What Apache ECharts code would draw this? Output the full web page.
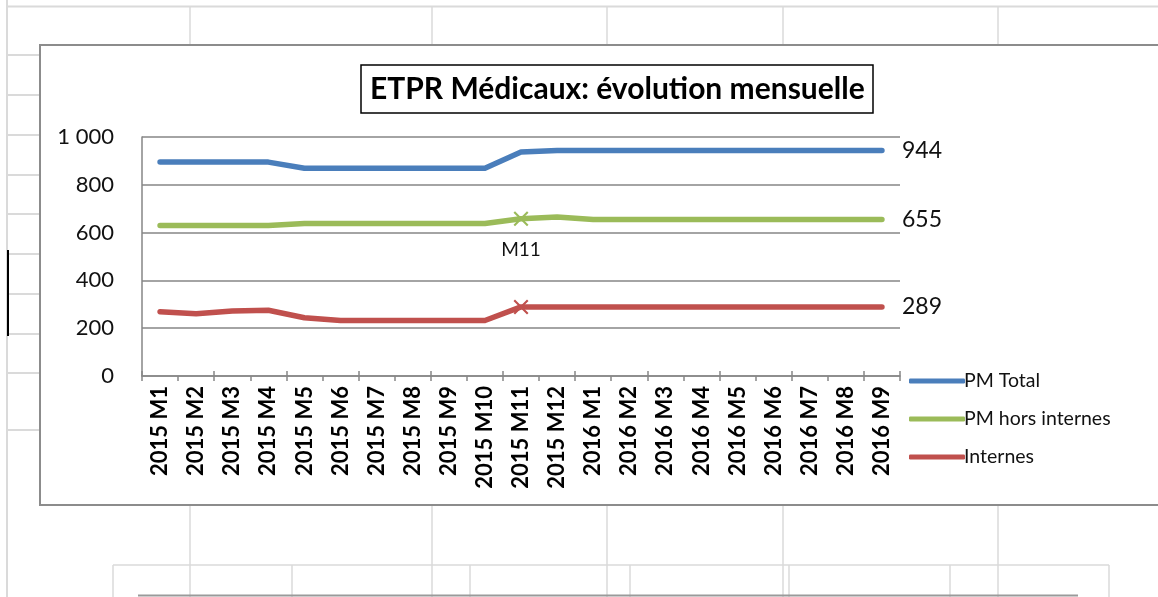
<!DOCTYPE html>
<html><head><meta charset="utf-8">
<script src="https://cdn.jsdelivr.net/npm/echarts@6/dist/echarts.min.js"></script>
<style>html,body{margin:0;padding:0;background:#fff}#c{width:1158px;height:597px}</style>
</head><body><div id="c"></div><script>
const categories = ['2015 M1','2015 M2','2015 M3','2015 M4','2015 M5','2015 M6','2015 M7','2015 M8','2015 M9','2015 M10','2015 M11','2015 M12','2016 M1','2016 M2','2016 M3','2016 M4','2016 M5','2016 M6','2016 M7','2016 M8','2016 M9'];
const pmTotal        = [895,895,895,895,869,869,869,869,869,869,937,944,944,944,944,944,944,944,944,944,944];
const pmHorsInternes = [630,630,630,630,638,638,638,638,638,638,658,665,655,655,655,655,655,655,655,655,655];
const internes       = [269,260,272,275,244,232,232,232,232,232,289,289,289,289,289,289,289,289,289,289,289];
const seriesNames = ['PM Total','PM hors internes','Internes'];
const colors = ['#4a7ebb','#9bbb59','#c0504d'];
const titleText = 'ETPR Médicaux: évolution mensuelle';
const markIndex = 10;
const FONT = 'Lato';

const crossPath = 'path://M0,1L1,0L5,4L9,0L10,1L6,5L10,9L9,10L5,6L1,10L0,9L4,5Z';

function withMark(arr, color, showLabel) {
  return arr.map((v, i) => {
    if (i !== markIndex) return v;
    const item = { value: v, symbol: crossPath, symbolSize: 15, itemStyle: { color: color } };
    if (showLabel) {
      item.label = { show: true, position: 'bottom', distance: 14, formatter: categories[i].split(' ')[1],
        fontFamily: FONT, fontSize: 19, color: '#111' };
    }
    return item;
  });
}

const endLabel = { show: true, formatter: '{c}', distance: 20, fontFamily: FONT, fontSize: 23, color: '#111' };

function bgLine(x1, y1, x2, y2, color, w) {
  return { type: 'line', silent: true, z: -10, shape: { x1, y1, x2, y2 }, style: { stroke: color, lineWidth: w } };
}
const g = [];
const lg = '#dadada';
g.push(bgLine(7, 0, 7, 597, lg, 2));
g.push(bgLine(7, 6.5, 1158, 6.5, lg, 2));
[190, 432, 607, 783, 998].forEach(x => { g.push(bgLine(x, 6, x, 45, lg, 1.5)); g.push(bgLine(x, 505, x, 565, lg, 1.5)); });
[55, 95, 135, 175, 214, 254, 294, 334, 373, 430].forEach(y => g.push(bgLine(7, y, 40, y, lg, 2)));
g.push(bgLine(8, 250, 8, 336, '#000', 2));
g.push(bgLine(113, 565, 1109, 565, lg, 1.5));
[113, 190, 292, 432, 470, 607, 630, 783, 789, 950, 998, 1109].forEach(x => g.push(bgLine(x, 565, x, 597, lg, 1.5)));
g.push(bgLine(138, 595.5, 1078, 595.5, '#9a9a9a', 2));
g.push({ type: 'rect', silent: true, z: -5, shape: { x: 40, y: 45, width: 1140, height: 460 },
  style: { fill: '#fff', stroke: '#8c8c8c', lineWidth: 2 } });

const chart = echarts.init(document.getElementById('c'), null, { renderer: 'canvas' });
chart.setOption({
  animation: false,
  backgroundColor: '#fff',
  color: colors,
  graphic: { elements: g },
  title: {
    text: titleText, left: 361, top: 65,
    borderColor: '#000', borderWidth: 1.5, padding: [9, 9, 9, 9],
    textStyle: { fontFamily: FONT, fontWeight: 'bold', fontSize: 30, color: '#000' }
  },
  legend: {
    orient: 'vertical', left: 904, top: 366,
    itemWidth: 56, itemHeight: 5, itemGap: 18, icon: 'roundRect',
    data: seriesNames,
    textStyle: { fontFamily: FONT, fontSize: 19.5, color: '#111', lineHeight: 20, padding: [0, 0, 0, -6] }
  },
  grid: { left: 142, right: 258, top: 137, bottom: 221, outerBoundsMode: 'none', containLabel: false },
  xAxis: [{
    type: 'category', data: categories, position: 'bottom', boundaryGap: true,
    axisLine: { lineStyle: { color: '#868686', width: 1.5 } },
    axisTick: { show: true, inside: false, length: 5, alignWithLabel: false, lineStyle: { color: '#868686', width: 1.5 } },
    axisLabel: { rotate: 90, interval: 0, margin: 10, fontFamily: FONT, fontWeight: 'bold', fontSize: 22, color: '#000' }
  }, {
    type: 'category', data: categories, position: 'bottom', boundaryGap: true,
    axisLine: { show: false },
    axisTick: { show: true, inside: true, length: 5, alignWithLabel: false, lineStyle: { color: '#868686', width: 1.5 } },
    axisLabel: { show: false }
  }],
  yAxis: {
    type: 'value', min: 0, max: 1000, interval: 200,
    axisLine: { show: true, lineStyle: { color: '#868686', width: 1.5 } },
    axisTick: { show: false },
    splitLine: { lineStyle: { color: '#868686', width: 1.5 } },
    axisLabel: { margin: 28, fontFamily: FONT, fontSize: 22, color: '#111',
      formatter: v => String(v).replace(/\B(?=(\d{3})+(?!\d))/g, ' ') }
  },
  series: [
    { name: seriesNames[0], type: 'line', data: pmTotal, symbol: 'none', showAllSymbol: true,
      lineStyle: { width: 5.5, cap: 'round', join: 'round' }, endLabel: endLabel, z: 3 },
    { name: seriesNames[1], type: 'line', data: withMark(pmHorsInternes, colors[1], true), symbol: 'none', showAllSymbol: true,
      lineStyle: { width: 5.5, cap: 'round', join: 'round' }, endLabel: endLabel, z: 3 },
    { name: seriesNames[2], type: 'line', data: withMark(internes, colors[2], false), symbol: 'none', showAllSymbol: true,
      lineStyle: { width: 5.5, cap: 'round', join: 'round' }, endLabel: endLabel, z: 3 }
  ]
});
</script></body></html>
